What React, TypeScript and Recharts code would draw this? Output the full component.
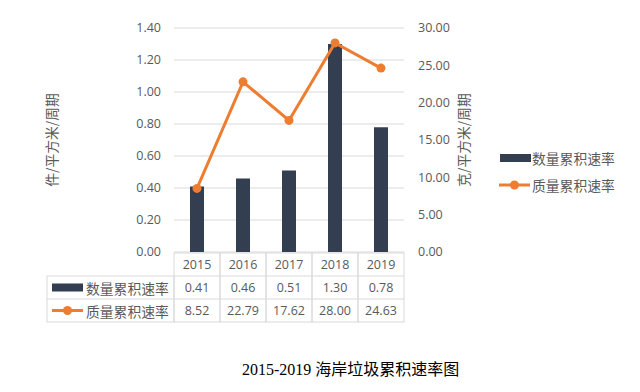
import React from 'react';
import { ComposedChart, Bar, Line, XAxis, YAxis, CartesianGrid, Legend } from 'recharts';

const years = ['2015', '2016', '2017', '2018', '2019'];
const countRate = [0.41, 0.46, 0.51, 1.3, 0.78];
const massRate = [8.52, 22.79, 17.62, 28.0, 24.63];
const leftTicks = [0, 0.2, 0.4, 0.6, 0.8, 1.0, 1.2, 1.4];
const rightTicks = [0, 5, 10, 15, 20, 25, 30];
const countName = '数量累积速率';
const massName = '质量累积速率';
const leftTitle = '件/平方米/周期';
const rightTitle = '克/平方米/周期';
const chartTitle = '2015-2019 海岸垃圾累积速率图';

const data = years.map((y, i) => ({ year: y, count: countRate[i], mass: massRate[i] }));

const BAR = '#333F50';
const ORANGE = '#ED7D31';
const GRID = '#D9D9D9';
const TEXT = '#595959';
const NUM_FONT = '"Open Sans", "Noto Sans CJK SC", sans-serif';
const CJK_FONT = '"Noto Sans CJK SC", "Open Sans", sans-serif';

const ROW = 23;

const TableTick = (props: any) => {
  const { x, y, payload, index, width, visibleTicksCount } = props;
  const bw = width / (visibleTicksCount || years.length);
  const left = x - bw / 2;
  const top = y + 1;
  const i = index;
  const cells: React.ReactNode[] = [];
  cells.push(
    <rect key="c" x={left} y={top} width={bw} height={ROW * 3} fill="none" stroke={GRID} strokeWidth={1} />
  );
  cells.push(<line key="l1" x1={left} x2={left + bw} y1={top + ROW} y2={top + ROW} stroke={GRID} />);
  cells.push(<line key="l2" x1={left} x2={left + bw} y1={top + ROW * 2} y2={top + ROW * 2} stroke={GRID} />);
  const vals = [payload.value, countRate[i].toFixed(2), massRate[i].toFixed(2)];
  vals.forEach((v, r) => {
    cells.push(
      <text key={'t' + r} x={x} y={top + ROW * r + ROW / 2} textAnchor="middle" dominantBaseline="central"
        fontFamily={NUM_FONT} fontSize={12.5} fill={TEXT}>{v}</text>
    );
  });
  if (i === 0) {
    const lx = 47;
    const w = left - lx;
    cells.push(<rect key="h" x={lx} y={top + ROW} width={w} height={ROW * 2} fill="none" stroke={GRID} />);
    cells.push(<line key="h1" x1={lx} x2={left} y1={top + ROW * 2} y2={top + ROW * 2} stroke={GRID} />);
    const r1 = top + ROW * 1.5;
    const r2 = top + ROW * 2.5;
    cells.push(<rect key="s1" x={52} y={r1 - 4} width={31} height={8} fill={BAR} />);
    cells.push(<line key="s2" x1={52} x2={83} y1={r2} y2={r2} stroke={ORANGE} strokeWidth={3} />);
    cells.push(<circle key="s3" cx={67.5} cy={r2} r={4.5} fill={ORANGE} />);
    cells.push(<text key="n1" x={86} y={r1} dominantBaseline="central" fontFamily={CJK_FONT} fontSize={13.8} fill={TEXT}>{countName}</text>);
    cells.push(<text key="n2" x={86} y={r2} dominantBaseline="central" fontFamily={CJK_FONT} fontSize={13.8} fill={TEXT}>{massName}</text>);
  }
  return <g>{cells}</g>;
};

const renderLegend = (props: any) => {
  const { payload } = props;
  return (
    <div>
      {(payload || []).map((p: any) => (
        <div key={p.value} style={{ display: 'flex', alignItems: 'center', height: 27 }}>
          <svg width={34} height={12} style={{ display: 'block' }}>
            {p.type === 'line' ? (
              <g>
                <line x1={1} x2={32} y1={6} y2={6} stroke={ORANGE} strokeWidth={3} />
                <circle cx={16.5} cy={6} r={4.5} fill={ORANGE} />
              </g>
            ) : (
              <rect x={2} y={2} width={31} height={8} fill={BAR} />
            )}
          </svg>
          <span style={{ fontFamily: CJK_FONT, fontSize: 13.8, color: TEXT, lineHeight: '16px' }}>{p.value}</span>
        </div>
      ))}
    </div>
  );
};

const LeftLabel = (props: any) => {
  const { viewBox } = props;
  const cx = 51;
  const cy = viewBox.y + viewBox.height / 2;
  return (
    <text x={cx} y={cy} transform={`rotate(-90 ${cx} ${cy})`} textAnchor="middle" dominantBaseline="central"
      fontFamily={CJK_FONT} fontSize={13.8} fill={TEXT}>{leftTitle}</text>
  );
};

const RightLabel = (props: any) => {
  const { viewBox } = props;
  const cx = viewBox.x + 59;
  const cy = viewBox.y + viewBox.height / 2;
  return (
    <text x={cx} y={cy} transform={`rotate(-90 ${cx} ${cy})`} textAnchor="middle" dominantBaseline="central"
      fontFamily={CJK_FONT} fontSize={13.8} fill={TEXT}>{rightTitle}</text>
  );
};

export default function App() {
  return (
    <div style={{ position: 'absolute', left: 0, top: 0, width: 640, height: 392, background: '#fff' }}>
      <ComposedChart width={640} height={392} data={data} margin={{ top: 28, right: 0, left: 0, bottom: 0 }}>
        <CartesianGrid yAxisId="left" vertical={false} stroke={GRID} strokeWidth={1} />
        <XAxis dataKey="year" height={140} tickLine={false} axisLine={false} tickSize={0} tickMargin={0}
          interval={0} tick={(p: any) => <TableTick {...p} />} />
        <YAxis yAxisId="left" orientation="left" width={174} domain={[0, 1.4]} ticks={leftTicks}
          tickFormatter={(v: number) => v.toFixed(2)} axisLine={false} tickLine={false} tickMargin={7}
          tick={{ fill: TEXT, fontSize: 12.5, fontFamily: NUM_FONT }} label={<LeftLabel />} />
        <YAxis yAxisId="right" orientation="right" width={236} domain={[0, 30]} ticks={rightTicks}
          tickFormatter={(v: number) => v.toFixed(2)} axisLine={false} tickLine={false} tickMargin={8}
          tick={{ fill: TEXT, fontSize: 12.5, fontFamily: NUM_FONT, textAnchor: 'start' }} label={<RightLabel />} />
        <Bar yAxisId="left" dataKey="count" name={countName} fill={BAR} barSize={14} isAnimationActive={false} legendType="rect" />
        <Line yAxisId="right" dataKey="mass" name={massName} stroke={ORANGE} strokeWidth={3}
          dot={{ r: 4.5, fill: ORANGE, stroke: 'none' }} activeDot={false} isAnimationActive={false} legendType="line" />
        <Legend layout="horizontal" align="center" verticalAlign="middle" content={renderLegend}
          wrapperStyle={{ position: 'absolute', left: 498, top: 144, width: 135, height: 54 }} />
      </ComposedChart>
      <div style={{ position: 'absolute', left: 242, top: 356, whiteSpace: 'nowrap', fontFamily: '"Liberation Serif", "Noto Sans CJK SC", serif', fontSize: 16, color: '#000' }}>
        {chartTitle}
      </div>
    </div>
  );
}
